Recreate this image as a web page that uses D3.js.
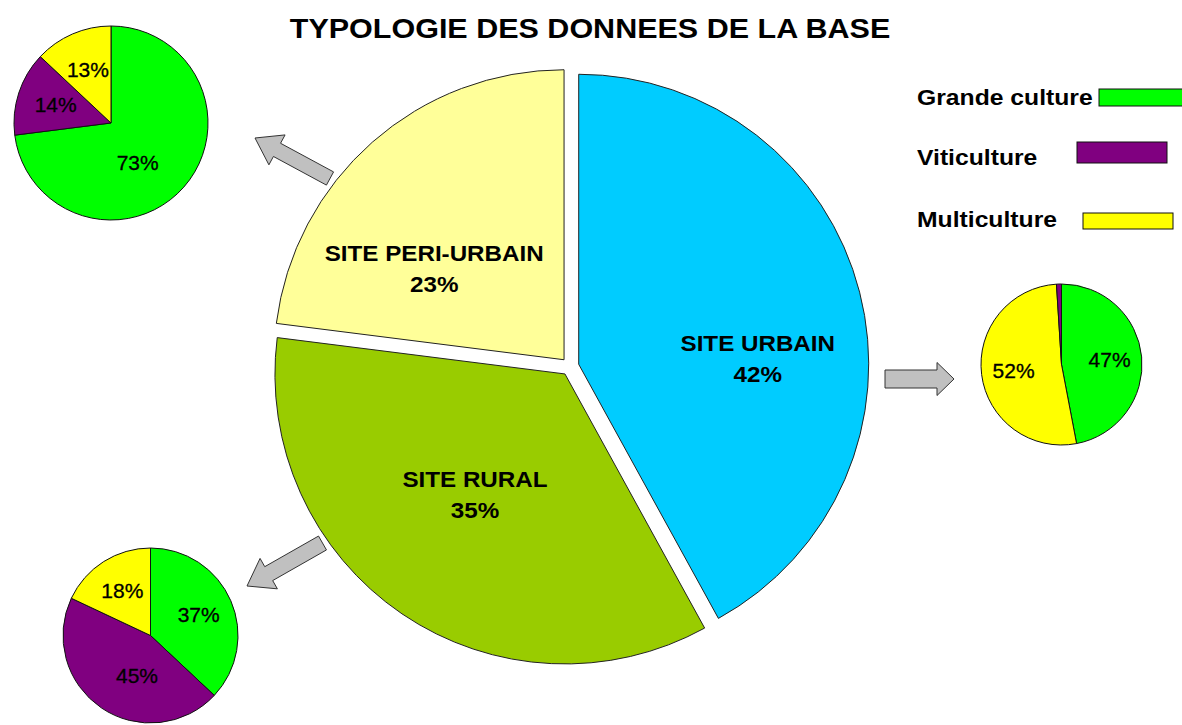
<!DOCTYPE html>
<html>
<head>
<meta charset="utf-8">
<script src="https://cdn.jsdelivr.net/npm/d3@7"></script>
<style>
  html, body { margin: 0; padding: 0; background: #fff; }
  svg { display: block; font-family: "Liberation Sans", Arial, sans-serif; }
</style>
</head>
<body>
<svg id="chart" width="1182" height="725"></svg>
<script>
// main pie : share of each site type
const siteNames = ["SITE URBAIN", "SITE RURAL", "SITE PERI-URBAIN"];
const siteValues = [42, 35, 23];
const siteColors = ["#00CCFF", "#99CC00", "#FFFF99"];

// small pies : crop type split per site
const cropNames = ["Grande culture", "Viticulture", "Multiculture"];
const cropColors = ["#00FF00", "#800080", "#FFFF00"];
const periUrbainCrops = [73, 14, 13];
const urbainCrops = [47, 1, 52];   // viticulture sliver, not labelled
const ruralCrops = [37, 45, 18];

const title = "TYPOLOGIE DES DONNEES DE LA BASE";

const svg = d3.select("#chart");

// text helper, the original is a bit stretched horizontally
function label(g, x, y, txt, size, weight, sx, anchor) {
    return g.append("text")
        .attr("transform", `translate(${x},${y}) scale(${sx},1)`)
        .attr("text-anchor", anchor || "middle")
        .attr("font-size", size)
        .attr("font-weight", weight)
        .attr("fill", "#000")
        .text(txt);
}

label(svg, 590, 38, title, 27, "bold", 1.13);

// ---- main pie ----
const main = { cx: 570, cy: 366.5, r: 290, explode: 9 };
const mainPie = d3.pie().sort(null).value(d => d.value);
const mainArc = d3.arc().innerRadius(0).outerRadius(main.r);
const mainData = mainPie(siteNames.map((n, i) => ({ name: n, value: siteValues[i], color: siteColors[i] })));

// label placement tweaks (Excel doesn't put them on the centroid)
const mainLabelShift = {
    "SITE URBAIN": [24, 34],
    "SITE RURAL": [0, -12],
    "SITE PERI-URBAIN": [-24, 28]
};

const mainG = svg.append("g").attr("transform", `translate(${main.cx},${main.cy})`);
const slices = mainG.selectAll("g.slice")
    .data(mainData)
    .join("g")
    .attr("class", "slice")
    .attr("transform", d => {
        const a = (d.startAngle + d.endAngle) / 2;
        return `translate(${Math.sin(a) * main.explode},${-Math.cos(a) * main.explode})`;
    });

slices.append("path")
    .attr("d", mainArc)
    .attr("fill", d => d.data.color)
    .attr("stroke", "#222")
    .attr("stroke-width", 1);

slices.each(function(d) {
    const g = d3.select(this);
    const a = (d.startAngle + d.endAngle) / 2;
    const lr = main.r * 0.552;
    const sh = mainLabelShift[d.data.name];
    const x = Math.sin(a) * lr + sh[0];
    const y = -Math.cos(a) * lr + sh[1];
    label(g, x, y - 7, d.data.name, 22, "bold", 1.1);
    label(g, x, y + 24, d.data.value + "%", 22, "bold", 1.1);
});

// ---- small pies ----
const smallPies = [
    { values: periUrbainCrops, order: [0, 1, 2], cx: 111, cy: 123, r: 97,
      shift: { "Grande culture": [-17, 2] } },
    { values: urbainCrops, order: [0, 2, 1], cx: 1061.5, cy: 364.5, r: 80.5, shift: {} },
    { values: ruralCrops, order: [0, 1, 2], cx: 150.5, cy: 635.5, r: 87.5,
      shift: { "Viticulture": [16, -3] } }
];

const smallPie = d3.pie().sort(null).value(d => d.value);

smallPies.forEach(p => {
    const arc = d3.arc().innerRadius(0).outerRadius(p.r);
    const rows = p.order.map(i => ({ name: cropNames[i], value: p.values[i], color: cropColors[i] }));
    const g = svg.append("g").attr("transform", `translate(${p.cx},${p.cy})`);
    const arcs = smallPie(rows);

    g.selectAll("path")
        .data(arcs)
        .join("path")
        .attr("d", arc)
        .attr("fill", d => d.data.color)
        .attr("stroke", "#111")
        .attr("stroke-width", 1);

    arcs.filter(d => d.data.value >= 5).forEach(d => {
        const a = (d.startAngle + d.endAngle) / 2;
        const lr = p.r * 0.6;
        const sh = p.shift[d.data.name] || [0, 0];
        label(g, Math.sin(a) * lr + sh[0], -Math.cos(a) * lr + sh[1] + 7, d.data.value + "%", 20, "normal", 1.05)
            .attr("stroke", "#000").attr("stroke-width", 0.3);
    });
});

// ---- arrows from main slices to the detail pies ----
const arrows = [
    { from: [330, 178.5], to: [255, 138], w: 15, hw: 34, hl: 25 },
    { from: [885, 379], to: [954, 379], w: 18, hw: 33, hl: 17 },
    { from: [322.5, 543], to: [247, 586], w: 16, hw: 35, hl: 25 }
];

function arrowPath(a) {
    const dx = a.to[0] - a.from[0], dy = a.to[1] - a.from[1];
    const len = Math.hypot(dx, dy);
    const ux = dx / len, uy = dy / len;
    const nx = -uy, ny = ux;
    const bx = a.to[0] - ux * a.hl, by = a.to[1] - uy * a.hl;
    const pts = [
        [a.from[0] + nx * a.w / 2, a.from[1] + ny * a.w / 2],
        [bx + nx * a.w / 2, by + ny * a.w / 2],
        [bx + nx * a.hw / 2, by + ny * a.hw / 2],
        a.to,
        [bx - nx * a.hw / 2, by - ny * a.hw / 2],
        [bx - nx * a.w / 2, by - ny * a.w / 2],
        [a.from[0] - nx * a.w / 2, a.from[1] - ny * a.w / 2]
    ];
    return d3.line()(pts) + "Z";
}

svg.selectAll("path.arrow")
    .data(arrows)
    .join("path")
    .attr("class", "arrow")
    .attr("d", arrowPath)
    .attr("fill", "#C0C0C0")
    .attr("stroke", "#333")
    .attr("stroke-width", 1);

// ---- legend (hand placed in the original, boxes not aligned) ----
const legendRows = [
    { y: 105, box: [1099, 89, 84, 17] },
    { y: 165, box: [1077, 142, 90, 21] },
    { y: 227, box: [1083, 213, 90, 16] }
];
const legend = svg.append("g");
cropNames.forEach((name, i) => {
    const row = legendRows[i];
    label(legend, 917, row.y, name, 23, "bold", 1.075, "start");
    legend.append("rect")
        .attr("x", row.box[0]).attr("y", row.box[1])
        .attr("width", row.box[2]).attr("height", row.box[3])
        .attr("fill", cropColors[i])
        .attr("stroke", "#111")
        .attr("stroke-width", 1);
});
</script>
</body>
</html>
